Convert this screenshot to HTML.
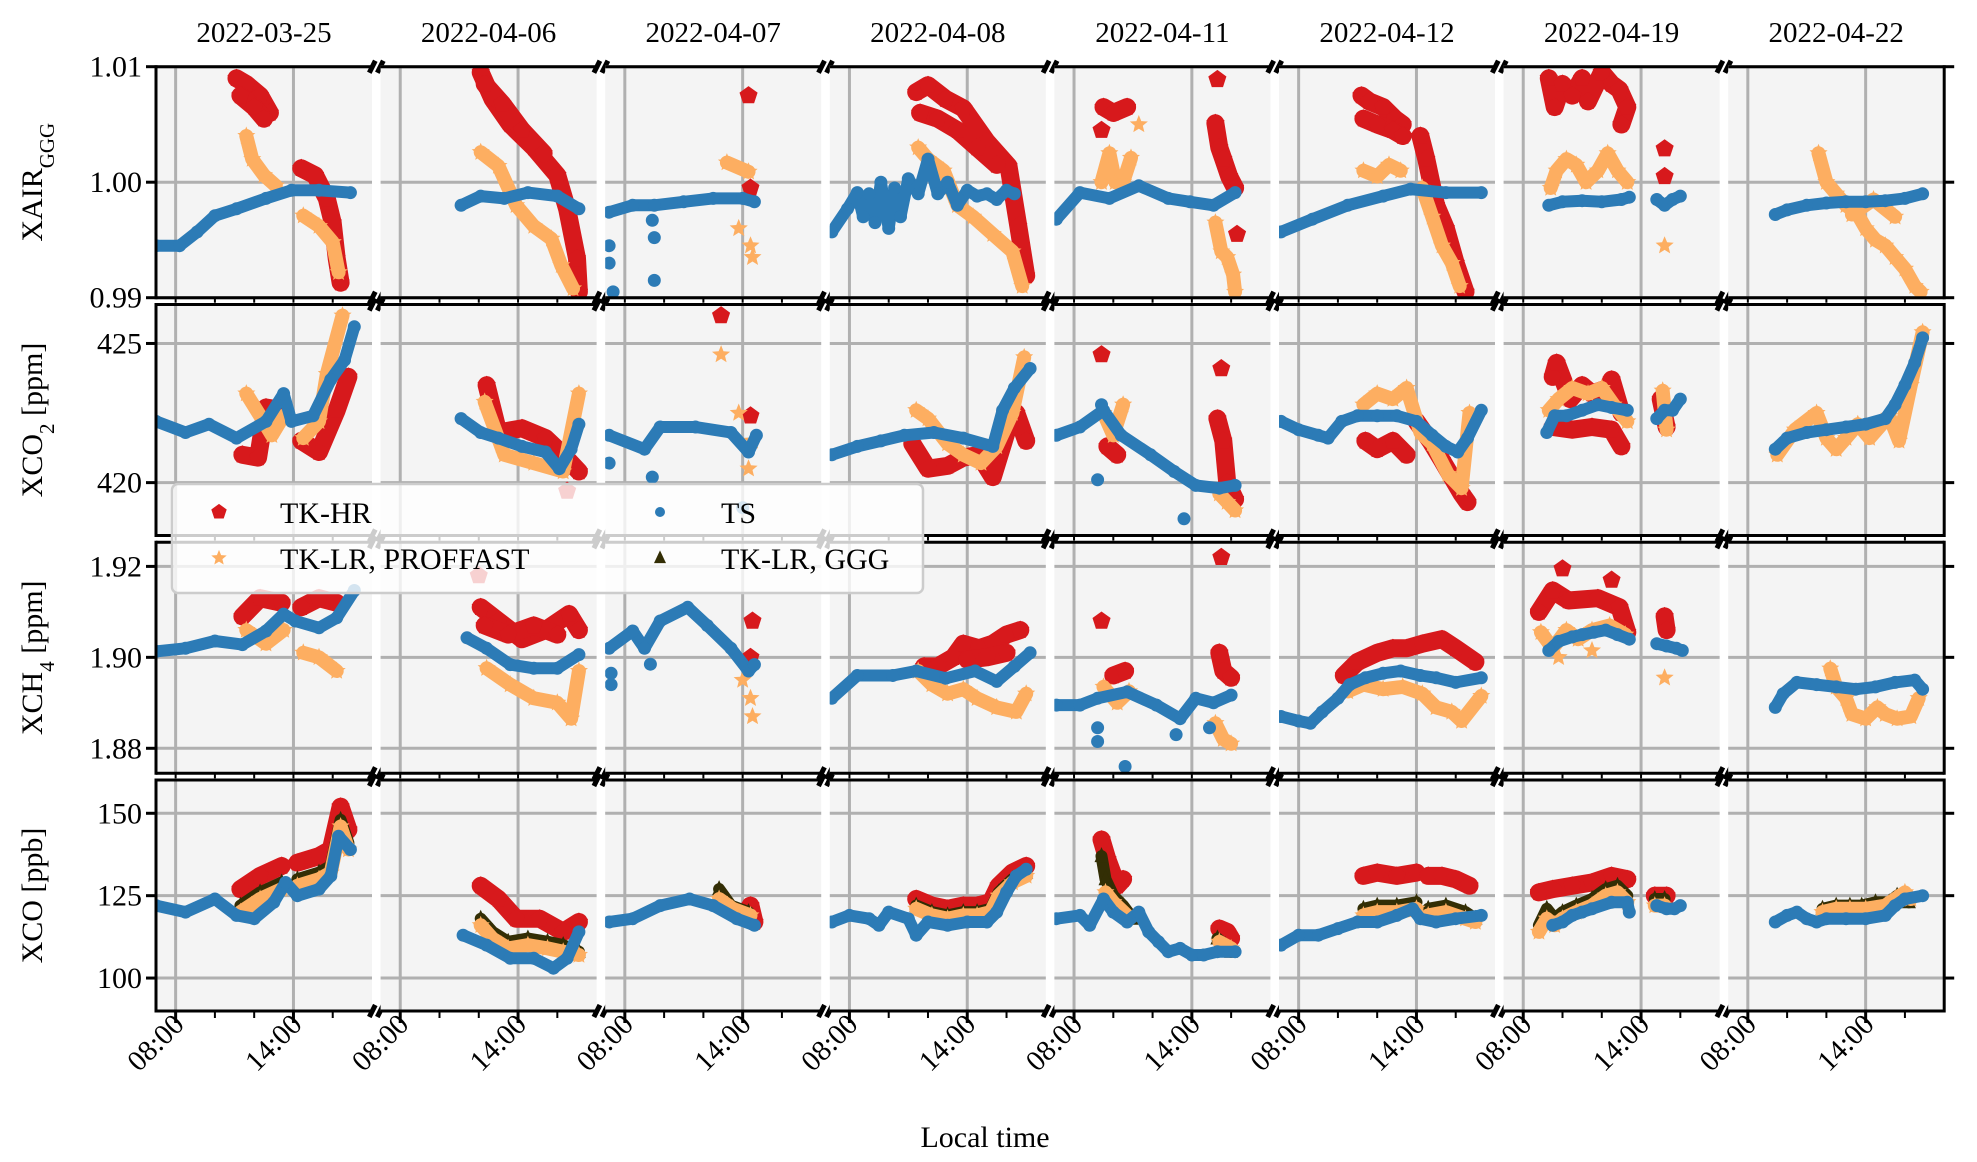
<!DOCTYPE html>
<html><head><meta charset="utf-8"><style>
html,body{margin:0;padding:0;background:#fff;}
svg{display:block;font-family:"Liberation Serif",serif;}
</style></head><body>
<svg id="chart" width="1977" height="1162" viewBox="0 0 1977 1162" xmlns="http://www.w3.org/2000/svg"></svg>
<script>
const days = ["2022-03-25","2022-04-06","2022-04-07","2022-04-08","2022-04-11","2022-04-12","2022-04-19","2022-04-22"];
const xTickHours = [8,14];
const xTickLabels = ["08:00","14:00"];
const minorHours = [10,12,16];
const yTicksXAIR = [0.99,1.00,1.01];
const yTickLabelsXAIR = ["0.99","1.00","1.01"];
const yTicksCO2 = [420,425];
const yTickLabelsCO2 = ["420","425"];
const yTicksCH4 = [1.88,1.90,1.92];
const yTickLabelsCH4 = ["1.88","1.90","1.92"];
const yTicksCO = [100,125,150];
const yTickLabelsCO = ["100","125","150"];
const rangeXAIR = [0.99,1.01];
const rangeCO2 = [418.1,426.4];
const rangeCH4 = [1.8745,1.9253];
const rangeCO = [90,160.1];

// ---- XAIR ----
const tsXAIR = [
 [[[7,0.9945],[8.2,0.9945],[9.1,0.9957],[10,0.9971],[11.1,0.9977],[12.6,0.9986],[13.9,0.9993],[15.3,0.9993],[16.9,0.9991]]],
 [[[11.1,0.998],[12.1,0.9988],[13.3,0.9986],[14.5,0.9991],[16,0.9988],[17.1,0.9977]]],
 [[[7.2,0.9974],[8.4,0.998],[9.5,0.998],[11,0.9983],[12.5,0.9986],[14,0.9986],[14.6,0.9983]],[[7.2,0.9945]],[[7.2,0.993]],[[7.4,0.9905]],[[9.4,0.9967]],[[9.5,0.9952]],[[9.5,0.9915]]],
 [[[7.1,0.9957],[7.9,0.9977],[8.4,0.9991],[8.7,0.997],[9,0.999],[9.3,0.9965],[9.6,1.0],[10,0.996],[10.3,0.9995],[10.6,0.997],[11,1.0003],[11.5,0.999],[12,1.002],[12.5,0.999],[13,1.0],[13.5,0.998],[14,0.9993],[14.5,0.9988],[15,0.999],[15.5,0.9985],[16,0.9993],[16.4,0.999]]],
 [[[7.1,0.9968],[8.3,0.9991],[9.8,0.9986],[11.3,0.9997],[12.8,0.9986],[13.9,0.9983],[15.1,0.998],[16.2,0.9991]]],
 [[[7.1,0.9957],[8.7,0.9968],[10.5,0.998],[12.3,0.9988],[13.7,0.9994],[15.5,0.9991],[17.3,0.9991]]],
 [[[9.3,0.998],[10,0.9983],[11,0.9984],[12,0.9983],[13,0.9985],[13.4,0.9987]],[[14.8,0.9985],[15.2,0.998],[15.6,0.9985],[16,0.9988]]],
 [[[9.4,0.9972],[10,0.9976],[11,0.998],[12,0.9982],[13,0.9983],[14,0.9983],[15,0.9984],[16,0.9986],[16.9,0.999]]]
];
const hrXAIR = [
 [[[11.1,1.009],[11.6,1.0085],[12.3,1.0075],[12.8,1.006]],[[11.3,1.0075],[12,1.0065],[12.5,1.0055]],[[14.4,1.0012],[15.1,1.0006],[15.7,0.9986],[16,0.9965],[16.2,0.9934],[16.4,0.9913]]],
 [[[12.1,1.0095],[12.7,1.0072],[13.6,1.005],[14.8,1.003],[16,1.0006],[16.5,0.9977],[17,0.9934],[17.1,0.9905]],[[12.3,1.0085],[13.2,1.0068],[14.2,1.0045],[15.3,1.0025]]],
 [[[14.3,1.0075]],[[14.4,0.9995]]],
 [[[11.4,1.0078],[12,1.0084],[12.9,1.0072],[13.8,1.0064],[15,1.0035],[16.1,1.0014],[16.6,0.9962],[17,0.9919]],[[11.6,1.006],[12.5,1.0055],[13.5,1.0045],[14.5,1.003],[15.5,1.0015]]],
 [[[9.5,1.0065],[10,1.006],[10.7,1.0065]],[[9.4,1.0045]],[[15.3,1.0089]],[[15.2,1.0051],[15.4,1.003],[15.6,1.002],[15.9,1.0005],[16.2,0.9995]],[[16.3,0.9955]]],
 [[[11.2,1.0075],[11.6,1.007],[12.3,1.0065],[12.9,1.0055],[13.3,1.005]],[[11.3,1.0055],[12,1.005],[12.8,1.0045],[13.3,1.004]],[[14.2,1.004],[14.5,1.002],[15,0.998],[15.5,0.996],[16,0.993],[16.5,0.9905]]],
 [[[9.3,1.009],[9.6,1.0065],[10,1.0085],[10.5,1.0075],[11,1.009],[11.3,1.007],[12,1.0095],[12.5,1.0085],[12.9,1.008],[13.3,1.0065],[13,1.005]],[[15.2,1.0029]],[[15.2,1.0005]]],
 []
];
const lrXAIR = [
 [[[11.6,1.004],[11.9,1.002],[12.5,1.0006],[13.1,0.9997]],[[14.5,0.9971],[15.3,0.9962],[16,0.9948],[16.3,0.9922]]],
 [[[12.1,1.0026],[13,1.0014],[13.9,0.998],[14.8,0.9962],[15.7,0.9951],[16.2,0.9928],[16.8,0.9908]]],
 [[[13.2,1.0017],[14.3,1.0009]],[[13.8,0.996]],[[14.4,0.9945]],[[14.5,0.9935]]],
 [[[11.5,1.003],[12,1.002],[12.8,1.001],[13.5,0.998],[14.3,0.997],[15.3,0.9955],[16.3,0.994],[16.8,0.991]]],
 [[[9.4,1.0],[9.8,1.0025],[10.1,1.0],[10.5,1.0],[10.9,1.0021]],[[11.3,1.005]],[[15.2,0.9965],[15.5,0.994],[15.8,0.9935],[16.1,0.992],[16.2,0.9905]]],
 [[[11.3,1.001],[12,1.0005],[12.6,1.0015],[13.2,1.001]],[[14.3,0.9995],[14.8,0.997],[15.3,0.9945],[15.8,0.993],[16.2,0.991]]],
 [[[9.4,0.9995],[9.7,1.001],[10.2,1.002],[10.7,1.0015],[11.2,1.0],[11.8,1.001],[12.3,1.0025],[12.8,1.001],[13.3,1.0]],[[15.2,0.9945]]],
 [[[11.6,1.0025],[12,1.0],[12.5,0.999],[13,0.998],[13.5,0.9975],[14,0.996],[14.5,0.995],[15,0.9945],[15.5,0.9935],[16,0.9925],[16.5,0.991],[16.8,0.9905]],[[13.3,0.9972],[14.4,0.9985],[15.5,0.997]]]
];

// ---- XCO2 ----
const tsCO2 = [
 [[[7,422.2],[8.5,421.8],[9.7,422.1],[11.1,421.6],[12.6,422.2],[13.5,423.2],[13.9,422.2],[15,422.4],[15.9,423.7],[16.6,424.4],[17.1,425.6]]],
 [[[11.1,422.3],[12.1,421.8],[13,421.6],[14.2,421.3],[15.4,421.1],[16.1,420.5],[16.7,421.2],[17.1,422.1]]],
 [[[7.2,421.7],[9,421.2],[9.8,422],[11.6,422],[13.4,421.8],[14.3,421.1],[14.7,421.7]],[[7.2,420.7]],[[9.4,420.2]],[[14,419.1]]],
 [[[7.1,421],[8.4,421.3],[9.6,421.5],[10.8,421.7],[12.3,421.8],[13.8,421.6],[15.3,421.3],[15.8,422.6],[16.4,423.4],[17.2,424.1]]],
 [[[7.1,421.7],[8.3,422],[9.5,422.6],[10.4,421.7],[11.9,421],[13.1,420.4],[14.2,419.9],[15.4,419.8],[16.2,419.9]],[[9.4,422.8]],[[9.2,420.1]],[[13.6,418.7]]],
 [[[7.1,422.2],[8,421.9],[9,421.7],[9.5,421.6],[10.2,422.2],[11,422.4],[12,422.4],[13,422.4],[14,422.2],[14.8,421.7],[15.5,421.3],[16.1,421.1],[16.6,421.6],[17.3,422.6]]],
 [[[9.2,421.8],[9.6,422.4],[10.2,422.4],[11,422.6],[11.8,422.8],[12.5,422.7],[13.3,422.6]],[[14.8,422.3],[15.2,422.6],[15.6,422.6],[16,423]]],
 [[[9.4,421.2],[10,421.6],[11,421.8],[12,421.9],[13,422],[14,422.1],[15,422.3],[15.5,422.8],[16,423.5],[16.5,424.3],[16.9,425.2]]]
];
const hrCO2 = [
 [[[11.4,421.0],[12.2,420.9],[12.6,422.7],[13.5,422.6]],[[14.4,421.5],[15.3,421.1],[16.2,422.6],[16.8,423.8]]],
 [[[12.4,423.5],[13,421.8],[14.2,421.95],[15.4,421.6],[16.3,421],[17.1,420.4]],[[16.5,419.7]]],
 [[[12.9,426]],[[14.4,422.4]]],
 [[[11.2,421.4],[12,420.5],[13,420.6],[13.8,420.9],[14.6,421],[15.3,420.2],[16,421.8],[16.5,422.5],[17,421.5]]],
 [[[9.4,424.6]],[[15.5,424.1]],[[9.7,421.3],[10.2,421]],[[15.3,422.3],[15.6,421.5],[15.8,420],[16.2,419.4]]],
 [[[11.4,421.5],[12,421.2],[12.8,421.5],[13.5,421]],[[14,422.2],[14.7,421.5],[15.3,420.8],[15.8,420.2],[16.3,419.6],[16.6,419.3]]],
 [[[9.5,423.8],[9.7,424.3],[10.4,423],[11,423.5],[11.5,423.2],[12.3,423.4],[12.5,423.7],[13,422.5]],[[9.5,422],[10.5,421.9],[11.5,422],[12.5,421.9],[13,421.3]],[[15,423],[15.3,422]]],
 []
];
const lrCO2 = [
 [[[11.6,423.2],[12.3,422.4],[12.9,421.7],[13.5,422.4]],[[14.5,421.6],[15.3,422.2],[15.7,423.9],[16.5,426]]],
 [[[12.3,422.9],[13.3,421],[14.8,420.7],[16.3,420.4],[17.1,423.2]]],
 [[[12.9,424.6]],[[14.3,420.5]],[[14.5,421.5]],[[13.8,422.5]]],
 [[[11.4,422.6],[12,422.3],[13,421.4],[13.8,421],[14.7,420.7],[15.5,421.3],[16.3,422.5],[16.9,424.5]]],
 [[[9.5,422.5],[10,421.7],[10.5,422.8]],[[15.4,419.6],[15.8,419.3],[16.2,419]]],
 [[[11.3,422.8],[12,423.2],[12.8,423],[13.5,423.4],[14.2,421.8],[14.8,421.4],[15.6,420.3],[16.3,419.8],[16.7,422.5]]],
 [[[9.3,422.6],[9.8,423],[10.5,423.4],[11.3,423.2],[12,423.4],[12.6,422.8],[13.3,422.2]],[[15.1,423.3],[15.3,421.9]]],
 [[[9.5,421],[10.4,421.9],[11.5,422.5],[12,421.6],[12.5,421.2],[13,421.6],[13.6,422.1],[14.2,421.6],[15.2,422.4],[15.7,421.5],[16.3,423.5],[16.9,425.4]]]
];

// ---- XCH4 ----
const tsCH4 = [
 [[[7,1.9013],[8.5,1.902],[10,1.9036],[11.4,1.9028],[12.6,1.9058],[13.5,1.9095],[14.1,1.908],[15.3,1.9065],[16.2,1.9087],[17.1,1.9147]]],
 [[[11.4,1.9043],[12.4,1.902],[13.6,1.8984],[14.8,1.8976],[16,1.8976],[17.1,1.9006]]],
 [[[7.2,1.902],[8.4,1.9058],[9,1.902],[9.8,1.908],[11.2,1.911],[12.2,1.907],[13.4,1.902],[14.3,1.897],[14.6,1.8984]],[[7.3,1.8965]],[[7.3,1.894]],[[9.3,1.8985]]],
 [[[7.1,1.891],[8.4,1.896],[10.2,1.896],[11.4,1.897],[12.9,1.8954],[14.4,1.897],[15.5,1.8947],[16.4,1.898],[17.2,1.901]]],
 [[[7.1,1.8895],[8.3,1.8895],[9.2,1.891],[10.7,1.8924],[12.2,1.8895],[13.4,1.8865],[14.2,1.891],[15.1,1.890],[16,1.8917]],[[9.2,1.8845]],[[9.2,1.8815]],[[10.6,1.876]],[[13.2,1.883]],[[14.9,1.8845]]],
 [[[7.1,1.887],[8,1.886],[8.6,1.8855],[9.2,1.888],[10,1.891],[10.6,1.894],[11.4,1.8955],[12.3,1.8965],[13.2,1.897],[14.2,1.896],[15,1.8955],[16,1.8945],[17.3,1.8955]]],
 [[[9.3,1.9015],[9.8,1.9035],[10.5,1.9045],[11,1.905],[11.6,1.9055],[12.2,1.906],[12.8,1.905],[13.4,1.904]],[[14.8,1.903],[15.3,1.9025],[15.8,1.902],[16.1,1.9015]]],
 [[[9.4,1.889],[9.8,1.892],[10.5,1.8945],[11.5,1.894],[12.5,1.8935],[13.5,1.893],[14.5,1.8935],[15.5,1.8945],[16.5,1.895],[16.9,1.893]]]
];
const hrCH4 = [
 [[[11.4,1.909],[12.3,1.913],[13.4,1.912]],[[14.4,1.911],[15.3,1.913],[16.2,1.912]]],
 [[[12.1,1.911],[13,1.908],[14.2,1.904],[15.4,1.906],[16.6,1.9095],[17.1,1.906]],[[12.3,1.907],[13.5,1.905],[14.8,1.907],[16,1.905]],[[12.0,1.918]]],
 [[[14.5,1.908]],[[14.4,1.900]]],
 [[[11.8,1.898],[12.5,1.898],[13.3,1.900],[13.8,1.903],[14.6,1.902],[15.3,1.903],[16,1.905],[16.7,1.906]],[[14,1.8995],[15,1.9],[16,1.901]]],
 [[[9.4,1.908]],[[15.5,1.922]],[[10,1.896],[10.6,1.897]],[[15.4,1.901],[15.6,1.897],[16,1.8955]]],
 [[[10.3,1.896],[11,1.899],[12,1.901],[12.8,1.902],[13.5,1.902],[14.3,1.903],[15.3,1.904],[16,1.902],[17,1.899]]],
 [[[8.8,1.910],[9.5,1.9147],[10.3,1.9125],[11.8,1.913],[12.9,1.911],[13.3,1.9055]],[[10,1.9195]],[[12.5,1.917]],[[15.2,1.909],[15.3,1.906]]],
 []
];
const lrCH4 = [
 [[[11.6,1.906],[12.6,1.903],[13.5,1.906]],[[14.5,1.901],[15.3,1.900],[16.2,1.897]]],
 [[[12.4,1.8976],[13.6,1.894],[14.8,1.891],[16,1.890],[16.7,1.8865],[17.1,1.897]]],
 [[[14,1.895]],[[14.4,1.891]],[[14.5,1.887]]],
 [[[11.5,1.897],[12.2,1.894],[13,1.892],[13.8,1.893],[14.5,1.891],[15.5,1.889],[16.5,1.888],[17,1.892]]],
 [[[9.5,1.8935],[10.2,1.890],[10.8,1.8925]],[[15.2,1.8855],[15.6,1.882],[16,1.881]]],
 [[[10.5,1.8925],[11.3,1.894],[12.3,1.893],[13.3,1.8935],[14.3,1.892],[15,1.889],[15.8,1.888],[16.3,1.886],[17.3,1.8915]]],
 [[[8.9,1.9055],[9.5,1.902],[10.2,1.906],[10.8,1.904],[11.5,1.906],[12.4,1.907],[13.2,1.905]],[[9.8,1.900]],[[11.5,1.9015]],[[15.2,1.8955]]],
 [[[12.2,1.8975],[12.5,1.8935],[13,1.891],[13.3,1.8875],[14,1.8865],[14.6,1.889],[15,1.8875],[15.6,1.8865],[16.3,1.887],[16.7,1.891]]]
];

// ---- XCO ----
const tsCO = [
 [[[7,122],[8.5,120],[10,124],[11.1,119],[12,118],[13,123],[13.6,129],[14.2,125],[15.3,127],[15.9,131],[16.3,143],[16.9,139]]],
 [[[11.2,113],[12.4,110],[13.6,106],[14.8,106],[15.8,103],[16.5,106],[17.1,114]]],
 [[[7.2,117],[8.4,118],[9.8,122],[11.3,124],[12.5,122],[13.7,118],[14.6,116]]],
 [[[7.1,117],[8,119],[9,118],[9.5,116],[10,120],[11,118],[11.4,113],[12,117],[13,116],[14,117],[15,117],[15.5,120],[16,126],[16.5,131],[17,133]]],
 [[[7.1,118],[8.3,119],[8.8,116],[9.5,124],[10,120],[10.7,117],[11.3,120],[11.8,114],[12.3,111],[12.8,108],[13.4,109],[14,107],[14.6,107],[15.3,108],[16.2,108]]],
 [[[7.1,110],[8,113],[9,113],[10,115],[11,117],[12,117],[13,119],[13.8,121],[14.2,118],[15,117],[16,118],[17.3,119]]],
 [[[9.5,116],[10,117],[10.5,119],[11,120],[11.5,121],[12.5,123],[13.3,123],[13.4,120]],[[14.8,122],[15.3,121],[15.7,121],[16,122]]],
 [[[9.4,117],[10,119],[10.5,120],[11,118],[11.5,117],[12,118],[13,118],[14,118],[15,119],[15.5,122],[16,124],[16.9,125]]]
];
const hrCO = [
 [[[11.3,127],[12.3,131],[13.4,134]],[[14.2,135],[15.3,137],[15.9,139],[16.4,152],[16.8,145]]],
 [[[12.1,128],[13,124],[13.9,118],[15.1,118],[16.3,114],[17.1,117]]],
 [[[14.4,122],[14.6,117]]],
 [[[11.4,124],[12.2,122],[13,121],[13.8,122],[14.5,122],[15.2,123],[15.6,128],[16.3,132],[17,134]]],
 [[[9.4,142],[9.7,136],[10.2,128],[10.5,130]],[[15.4,115],[15.8,114],[16,112]]],
 [[[11.3,131],[12,132],[13,131],[14,132]],[[14.6,131],[15.3,131],[16,130],[16.7,128]]],
 [[[8.8,126],[9.5,127],[10.5,128],[11.5,129],[12.5,131],[13.3,130]],[[14.7,125],[15.3,125]]],
 []
];
const gggCO = [
 [[[11.3,122],[12.3,126],[13.4,129]],[[14.2,130],[15.3,132],[15.9,134],[16.4,148],[16.8,141]]],
 [[[12.1,118],[12.7,114],[13.5,111],[14.5,112],[15.5,111],[16.3,110],[17.1,108]]],
 [[[12.8,127],[13.4,122],[14.3,120]]],
 [[[11.4,122],[12.2,120],[13,119],[13.8,120],[14.5,120],[15.2,121],[15.6,126],[16.3,130],[17,132]]],
 [[[9.4,137],[9.6,130],[10,125],[10.5,122],[11,118]],[[15.3,112],[15.7,110],[16,108]]],
 [[[11.3,121],[12,122],[13,122],[14,123]],[[14.6,121],[15.5,122],[16.5,120],[17,118]]],
 [[[8.8,116],[9.2,121],[9.6,118],[10,120],[10.7,122],[11.5,124],[12.2,127],[12.8,128],[13.3,125]],[[14.7,124],[15.2,124]]],
 [[[11.8,121],[12.5,122],[13.2,122],[13.8,122],[14.5,123],[15.2,123],[15.6,125],[16.2,123]]]
];
const lrCO = [
 [[[11.3,120],[12.3,124],[13.4,127]],[[14.2,128],[15.3,130],[15.9,132],[16.4,146],[16.8,139]]],
 [[[12.1,116],[12.7,112],[13.5,109],[14.5,110],[15.5,109],[16.3,108],[17.1,107]]],
 [[[12.8,124],[13.5,121],[14.4,119]]],
 [[[11.4,121],[12.2,119],[13,118],[13.8,119],[14.5,119],[15.2,120],[15.6,125],[16.3,129],[17,131]]],
 [[[9.6,126],[10,123],[10.7,119]],[[15.4,111],[16,109]]],
 [[[11.3,119],[12,120],[13,120],[14,121]],[[14.6,119],[15.5,120],[16.5,118],[17,117]]],
 [[[8.8,114],[9.2,118],[9.6,116],[10,118],[10.7,120],[11.5,122],[12.2,125],[12.8,126],[13.3,123]],[[14.7,122],[15.2,122]]],
 [[[11.8,120],[12.5,121],[13.2,121],[14,121],[15,122],[15.5,124],[16,126],[16.3,124]]]
];

const NS = "http://www.w3.org/2000/svg";
const svg = document.getElementById("chart");
const PT = [66.7,304.5,542.3,780], PH = 231, L0 = 156, DX = 224.6, PW = 216;
const C = {hr:"#d7191c", lr:"#fdae61", ts:"#2c7bb6", ggg:"#332e05"};

function el(tag, attrs, parent){
  const e = document.createElementNS(NS, tag);
  for (const k in attrs) e.setAttribute(k, attrs[k]);
  (parent||svg).appendChild(e);
  return e;
}
function xScale(h, d){ return L0 + DX*d + (h-7)/11*PW; }
function yScale(v, row, range){ return PT[row] + PH - (v-range[0])/(range[1]-range[0])*PH; }

const rows = [
  {range:rangeXAIR, ticks:yTicksXAIR, labels:yTickLabelsXAIR, name:"xair", series:[["hr",hrXAIR],["lr",lrXAIR],["ts",tsXAIR]]},
  {range:rangeCO2, ticks:yTicksCO2, labels:yTickLabelsCO2, name:"xco2", series:[["hr",hrCO2],["lr",lrCO2],["ts",tsCO2]]},
  {range:rangeCH4, ticks:yTicksCH4, labels:yTickLabelsCH4, name:"xch4", series:[["hr",hrCH4],["lr",lrCH4],["ts",tsCH4]]},
  {range:rangeCO, ticks:yTicksCO, labels:yTickLabelsCO, name:"xco", series:[["hr",hrCO],["ggg",gggCO],["lr",lrCO],["ts",tsCO]]}
];

const defs = el("defs", {});
function markerPath(kind, x, y, s){
  s = s || 1;
  let pts=[];
  if (kind==="hr"){ for(let i=0;i<5;i++){const a=-Math.PI/2+i*2*Math.PI/5; pts.push([x+9.5*s*Math.cos(a), y+9.5*s*Math.sin(a)]);} }
  else if (kind==="lr"){ for(let i=0;i<10;i++){const r=(i%2?4.2:9.5)*s; const a=-Math.PI/2+i*Math.PI/5; pts.push([x+r*Math.cos(a), y+r*Math.sin(a)]);} }
  else { pts=[[x,y-9*s],[x+7*s,y+6*s],[x-7*s,y+6*s]]; }
  return pts.map(p=>p[0].toFixed(1)+","+p[1].toFixed(1)).join(" ");
}
const widths = {hr:18, lr:14, ggg:12, ts:12};

rows.forEach((row, r) => {
  for (let d=0; d<8; d++){
    const x0 = L0 + DX*d, y0 = PT[r];
    const g = el("g", {});
    
    
    const cp = el("clipPath", {id:"cp"+r+"_"+d}, defs);
    el("rect", {x:x0, y:y0, width:PW, height:PH}, cp);
    const bg = el("rect", {x:x0, y:y0, width:PW, height:PH, fill:"#f4f4f4"}, g);
    
    
    row.ticks.forEach(t => {
      const yy = yScale(t, r, row.range);
      const gl = el("line", {x1:x0, x2:x0+PW, y1:yy, y2:yy, stroke:"#b0b0b0", "stroke-width":3}, g);
      
      
    });
    xTickHours.forEach(h => {
      const xx = xScale(h, d);
      const gl = el("line", {x1:xx, x2:xx, y1:y0, y2:y0+PH, stroke:"#b0b0b0", "stroke-width":3}, g);
      
      
    });
    const dg = el("g", {"clip-path":"url(#cp"+r+"_"+d+")"}, g);
    row.series.forEach(([kind, data]) => {
      const sg = el("g", {}, dg);
      
      
      (data[d]||[]).forEach(seg => {
        const pts = seg.map(p => [xScale(p[0], d), yScale(p[1], r, row.range)]);
        if (pts.length > 1){
          const pl = el("polyline", {points: pts.map(p=>p[0].toFixed(1)+","+p[1].toFixed(1)).join(" "), fill:"none", stroke:C[kind], "stroke-width":widths[kind], "stroke-linejoin":"round", "stroke-linecap":"round"}, sg);
          
          
        }
        pts.forEach(p => {
          let m;
          if (kind==="ts") m = el("circle", {cx:p[0].toFixed(1), cy:p[1].toFixed(1), r:6.5, fill:C.ts}, sg);
          else m = el("polygon", {points: markerPath(kind, p[0], p[1]), fill:C[kind]}, sg);
          
          
        });
      });
    });
    // spines
    el("line", {x1:x0, x2:x0+PW, y1:y0, y2:y0, stroke:"#000", "stroke-width":3}, g);
    el("line", {x1:x0, x2:x0+PW, y1:y0+PH, y2:y0+PH, stroke:"#000", "stroke-width":3}, g);
    if (d===0) el("line", {x1:x0, x2:x0, y1:y0-1.5, y2:y0+PH+1.5, stroke:"#000", "stroke-width":3}, g);
    if (d===7) el("line", {x1:x0+PW, x2:x0+PW, y1:y0-1.5, y2:y0+PH+1.5, stroke:"#000", "stroke-width":3}, g);
    const last = r===3;
    xTickHours.forEach(h => { const xx=xScale(h,d); el("line",{x1:xx,x2:xx,y1:y0+PH,y2:y0+PH+(last?12:5),stroke:"#000","stroke-width":last?3:2},g); });
    minorHours.forEach(h => { const xx=xScale(h,d); el("line",{x1:xx,x2:xx,y1:y0+PH,y2:y0+PH+(last?7:5),stroke:"#000","stroke-width":2},g); });
    // break marks (one pair, centred in gap)
    if (d<7){
      const xc = x0 + PW + (DX-PW)/2;
      [y0, y0+PH].forEach(yy => {
        const bm = el("path",{d:`M${xc-7},${yy+6} L${xc-1},${yy-6} M${xc+1},${yy+6} L${xc+7},${yy-6}`,stroke:"#000","stroke-width":5,"stroke-linecap":"butt"},svg);
        
        
      });
    }
    if (last){
      xTickHours.forEach((h,i) => {
        const xx=xScale(h,d);
        const t = el("text",{x:xx+10,y:1026,"font-size":29,"text-anchor":"end",transform:`rotate(-45 ${xx+10} 1026)`},svg);
        t.textContent = xTickLabels[i];
        
        
      });
    }
    if (r===0){
      const t = el("text",{x:x0+PW/2,y:42,"font-size":29,"text-anchor":"middle"},svg);
      t.textContent = days[d];
      
      
    }
  }
  row.ticks.forEach((tv,i) => {
    const yy = yScale(tv, r, row.range);
    el("line",{x1:L0-10,x2:L0,y1:yy,y2:yy,stroke:"#000","stroke-width":3});
    const xr = L0+DX*7+PW;
    el("line",{x1:xr,x2:xr+10,y1:yy,y2:yy,stroke:"#000","stroke-width":3});
    const t = el("text",{x:L0-14,y:yy+10,"font-size":30,"text-anchor":"end"});
    t.textContent = row.labels[i];
    
    
  });
});

const yTitles = [
  ['XAIR<tspan baseline-shift="sub" font-size="21">GGG</tspan>', 'xair-axis-title'],
  ['XCO<tspan baseline-shift="sub" font-size="21">2</tspan> [ppm]', 'xco2-axis-title'],
  ['XCH<tspan baseline-shift="sub" font-size="21">4</tspan> [ppm]', 'xch4-axis-title'],
  ['XCO [ppb]', 'xco-axis-title']
];
yTitles.forEach((yt, r) => {
  const cy = PT[r] + PH/2, cx = 42;
  const t = el("text",{x:cx,y:cy,"font-size":30,"text-anchor":"middle",transform:`rotate(-90 ${cx} ${cy})`});
  t.innerHTML = yt[0];
  
  
});

const xl = el("text",{x:985,y:1147,"font-size":30,"text-anchor":"middle"});
xl.textContent = "Local time";



const lg = el("g",{});


el("rect",{x:172,y:484,width:751,height:109,rx:6,fill:"#ffffff","fill-opacity":0.8,stroke:"#cccccc","stroke-width":2.5},lg);
const legendEntries = [["hr","TK-HR",219,512],["lr","TK-LR, PROFFAST",219,558],["ts","TS",660,512],["ggg","TK-LR, GGG",660,558]];
legendEntries.forEach(([k,label,mx,my]) => {
  const eg = el("g",{},lg);
  
  
  if (k==="ts") el("circle",{cx:mx,cy:my,r:5,fill:C.ts},eg);
  else el("polygon",{points:markerPath(k,mx,my,0.85),fill:C[k]},eg);
  const t = el("text",{x:mx+61,y:my+11,"font-size":30},eg);
  t.textContent = label;
});
</script>
</body></html>
